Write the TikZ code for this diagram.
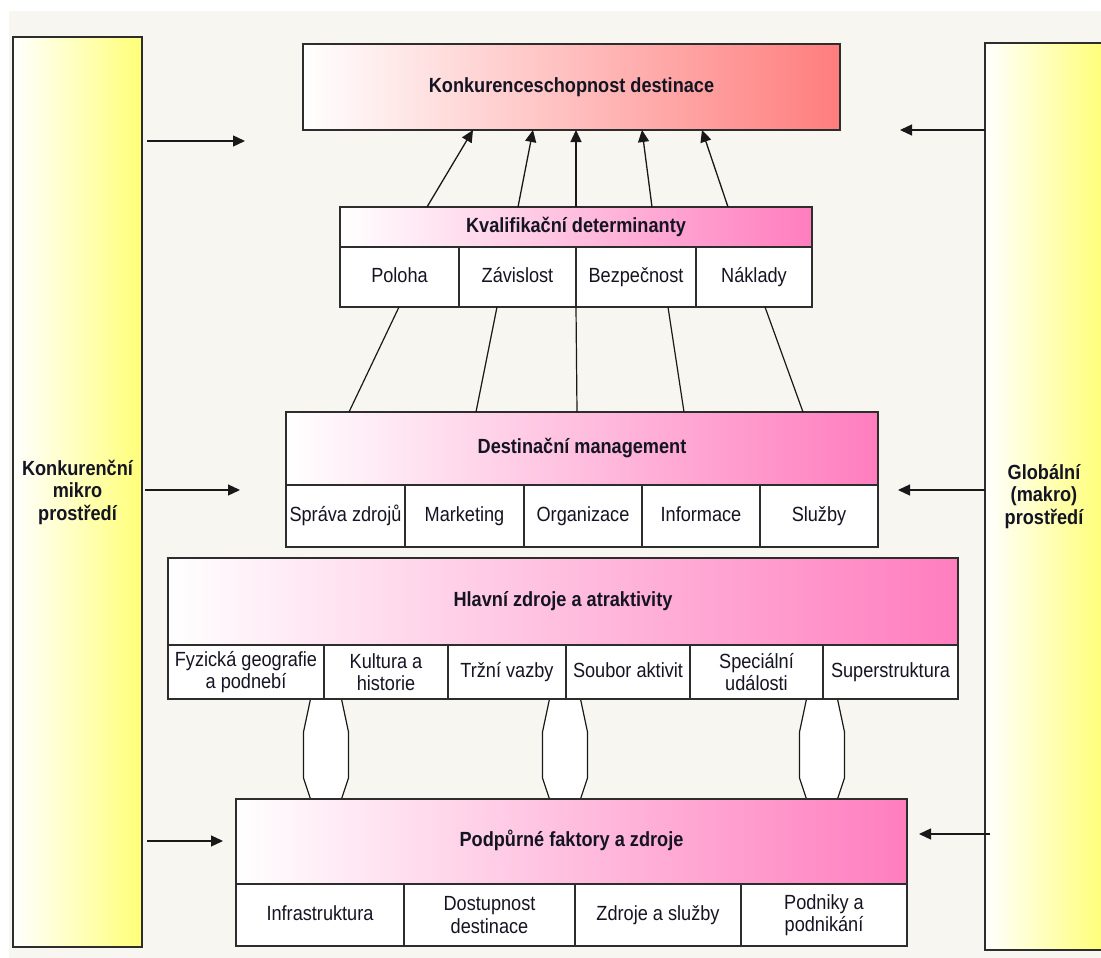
\documentclass[tikz,border=0pt]{standalone}
\usepackage{fontspec}
\setmainfont{Liberation Sans}[FakeStretch=0.885]
\usetikzlibrary{arrows.meta,calc}
\definecolor{bgc}{RGB}{248,246,240}
\definecolor{salmon}{RGB}{255,125,125}
\definecolor{pinkc}{RGB}{255,125,190}
\definecolor{yel}{RGB}{255,255,120}
\definecolor{edge}{RGB}{45,45,45}
\definecolor{ink}{RGB}{20,20,35}
\pgfdeclarelayer{bglayer}
\pgfdeclarelayer{linklayer}
\pgfsetlayers{bglayer,linklayer,main}
\newcommand\hexlink[2]{%
  \fill[white] ([xshift=-15.5pt]#1) -- ([xshift=-22.5pt,yshift=-33pt]#1) -- ([xshift=-22.5pt,yshift=21pt]#2) -- ([xshift=-15.5pt]#2) -- ([xshift=15.5pt]#2) -- ([xshift=22.5pt,yshift=21pt]#2) -- ([xshift=22.5pt,yshift=-33pt]#1) -- ([xshift=15.5pt]#1) -- cycle;
  \draw[link] ([xshift=-15.5pt]#1) -- ([xshift=-22.5pt,yshift=-33pt]#1) -- ([xshift=-22.5pt,yshift=21pt]#2) -- ([xshift=-15.5pt]#2);
  \draw[link] ([xshift=15.5pt]#1) -- ([xshift=22.5pt,yshift=-33pt]#1) -- ([xshift=22.5pt,yshift=21pt]#2) -- ([xshift=15.5pt]#2);
}
\begin{document}
\begin{tikzpicture}[x=1pt,y=-1pt,
  every node/.style={inner sep=0pt, outer sep=0pt, text=ink,
    font=\fontsize{20.5}{22.5}\selectfont},
  one/.style={text height=14.5pt, text depth=4pt},
  box/.style={draw=edge, line width=1.4pt, anchor=north west, align=center},
  titlebox/.style={box, one, left color=white, right color=pinkc,
    font=\bfseries\fontsize{20.5}{22.5}\selectfont},
  toptitle/.style={titlebox, right color=salmon},
  sidebox/.style={box, left color=white, right color=yel,
    font=\bfseries\fontsize{20.5}{22.5}\selectfont},
  cell/.style={box, one, fill=white},
  cell2/.style={box, fill=white},
  arr/.style={draw=black!90, line width=1.3pt, -{Triangle[length=12pt,width=11pt]}},
  link/.style={draw=black!90, line width=1.2pt},
]
\useasboundingbox (0,0) rectangle (1101,958);
\clip (0,0) rectangle (1101,958);
\begin{pgfonlayer}{bglayer}
\fill[white] (0,0) rectangle (1101,958);
\fill[bgc] (9,11) rectangle (1101,958);
\end{pgfonlayer}

% side boxes
\node[sidebox, minimum width=129pt, minimum height=910pt] (L) at (13,37) {Konkurenční\\mikro\\prostředí};
\node[sidebox, minimum width=118pt, minimum height=907pt] (R) at (985,43) {Globální\\(makro)\\prostředí};

% top box
\node[toptitle, minimum width=537pt, minimum height=86pt] (tb) at (303,44) {Konkurenceschopnost destinace};

% Kvalifikační determinanty
\node[titlebox, minimum width=472pt, minimum height=40pt] (kq) at (340,207) {Kvalifikační determinanty};
\node[cell, minimum width=119pt, minimum height=60pt] (k1) at (340,247) {Poloha};
\node[cell, minimum width=117pt, minimum height=60pt] (k2) at (459,247) {Závislost};
\node[cell, minimum width=120pt, minimum height=60pt] (k3) at (576,247) {Bezpečnost};
\node[cell, minimum width=116pt, minimum height=60pt] (k4) at (696,247) {Náklady};

% Destinační management
\node[titlebox, minimum width=592pt, minimum height=73pt] (dm) at (286,412) {Destinační management};
\node[cell, minimum width=119pt, minimum height=62pt] (d1) at (286,485) {Správa zdrojů};
\node[cell, minimum width=119pt, minimum height=62pt] (d2) at (405,485) {Marketing};
\node[cell, minimum width=118pt, minimum height=62pt] (d3) at (524,485) {Organizace};
\node[cell, minimum width=118pt, minimum height=62pt] (d4) at (642,485) {Informace};
\node[cell, minimum width=118pt, minimum height=62pt] (d5) at (760,485) {Služby};

% Hlavní zdroje a atraktivity
\node[titlebox, minimum width=790pt, minimum height=87pt] (hz) at (168,558) {Hlavní zdroje a atraktivity};
\node[cell2, minimum width=156pt, minimum height=54pt] (h1) at (168,645) {Fyzická geografie\\a podnebí};
\node[cell2, minimum width=124pt, minimum height=54pt] (h2) at (324,645) {Kultura a\\historie};
\node[cell, minimum width=118pt, minimum height=54pt] (h3) at (448,645) {Tržní vazby};
\node[cell, minimum width=124pt, minimum height=54pt] (h4) at (566,645) {Soubor aktivit};
\node[cell2, minimum width=133pt, minimum height=54pt] (h5) at (690,645) {Speciální\\události};
\node[cell, minimum width=135pt, minimum height=54pt] (h6) at (823,645) {Superstruktura};

% Podpůrné faktory a zdroje
\node[titlebox, minimum width=671pt, minimum height=85pt] (pf) at (236,799) {Podpůrné faktory a zdroje};
\node[cell, minimum width=168pt, minimum height=62pt] (p1) at (236,884) {Infrastruktura};
\node[cell2, minimum width=171pt, minimum height=62pt] (p2) at (404,884) {Dostupnost\\destinace};
\node[cell, minimum width=166pt, minimum height=62pt] (p3) at (575,884) {Zdroje a služby};
\node[cell2, minimum width=166pt, minimum height=62pt] (p4) at (741,884) {Podniky a\\podnikání};

% arrows from Kvalifikační determinanty to top box
\draw[arr] ([xshift=87pt]kq.north west) -- ([xshift=170pt]tb.south west);
\draw[arr] ([xshift=178pt]kq.north west) -- ([xshift=230pt]tb.south west);
\draw[arr] ([xshift=236pt]kq.north west) -- ([xshift=273pt]tb.south west);
\draw[arr] ([xshift=312pt]kq.north west) -- ([xshift=339pt]tb.south west);
\draw[arr] ([xshift=388pt]kq.north west) -- ([xshift=399pt]tb.south west);

% lines from Kvalifikační cells to Destinační management
\draw[link] ([xshift=59pt]k1.south west) -- ([xshift=63pt]dm.north west);
\draw[link] ([xshift=38pt]k2.south west) -- ([xshift=190pt]dm.north west);
\draw[link] (k3.south west) -- ([xshift=291pt]dm.north west);
\draw[link] ([xshift=92pt]k3.south west) -- ([xshift=398pt]dm.north west);
\draw[link] ([xshift=69pt]k4.south west) -- ([xshift=517pt]dm.north west);

% hexagonal links between Hlavní and Podpůrné
\coordinate (x1t) at ([xshift=2pt]h1.south east);
\coordinate (x1b) at (x1t |- pf.north);
\coordinate (x2t) at ([xshift=-1pt]h4.south west);
\coordinate (x2b) at (x2t |- pf.north);
\coordinate (x3t) at ([xshift=-1pt]h6.south west);
\coordinate (x3b) at (x3t |- pf.north);
\begin{pgfonlayer}{linklayer}
\hexlink{x1t}{x1b}
\hexlink{x2t}{x2b}
\hexlink{x3t}{x3b}
\end{pgfonlayer}

% side arrows
\coordinate (aL1) at (245,141);
\coordinate (aL2) at (240,490);
\coordinate (aL3) at (223,841);
\coordinate (aR1) at (900,130);
\coordinate (aR2) at (898,490);
\coordinate (aR3) at (919,834);
\draw[arr] ([xshift=5pt]L.east |- aL1) -- (aL1);
\draw[arr] ([xshift=3pt]L.east |- aL2) -- (aL2);
\draw[arr] ([xshift=5pt]L.east |- aL3) -- (aL3);
\draw[arr] (R.west |- aR1) -- (aR1);
\draw[arr] (R.west |- aR2) -- (aR2);
\draw[arr] ([xshift=5pt]R.west |- aR3) -- (aR3);
\end{tikzpicture}
\end{document}
